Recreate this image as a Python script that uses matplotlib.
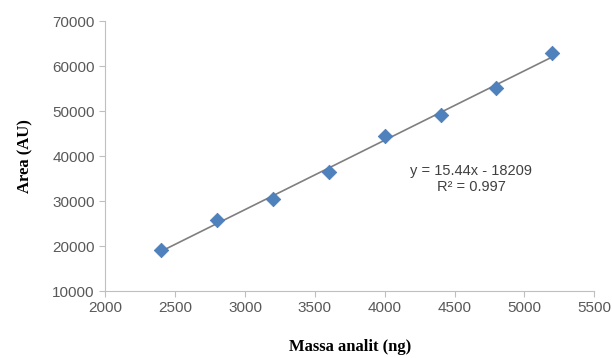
import numpy as np
import matplotlib
matplotlib.use('Agg')
import matplotlib.pyplot as plt

# datos
masa = [2400, 2800, 3200, 3600, 4000, 4400, 4800, 5200]
area = [19100, 25800, 30400, 36400, 44500, 49200, 55200, 62950]
xticks = [2000, 2500, 3000, 3500, 4000, 4500, 5000, 5500]
yticks = [10000, 20000, 30000, 40000, 50000, 60000, 70000]

fig = plt.figure(figsize=(6.12, 3.58), dpi=100)
ax = fig.add_axes([0.172, 0.187, 0.799, 0.754])

# linea de tendencia
m, b = np.polyfit(masa, area, 1)
xs = np.array([masa[0], masa[-1]])
ax.plot(xs, m * xs + b, color='#7f7f7f', lw=1.2, zorder=2)

ax.scatter(masa, area, marker='D', s=55, color='#4f81bd', edgecolors='#4a7ab5',
           linewidths=0.5, zorder=3)

ax.text(4620, 34900, 'y = 15.44x - 18209\nR² = 0.997', ha='center', va='center',
        fontsize=10.5, color='#404040', family='Liberation Sans', linespacing=1.1)

ax.set_xlim(2000, 5500)
ax.set_ylim(10000, 70000)
ax.set_xticks(xticks)
ax.set_yticks(yticks)

for s in ['top', 'right']:
    ax.spines[s].set_visible(False)
for s in ['left', 'bottom']:
    ax.spines[s].set_color('#bfbfbf')
ax.tick_params(colors='#bfbfbf', labelcolor='#595959', labelsize=11, length=4,
               direction='out')
for lbl in ax.get_xticklabels() + ax.get_yticklabels():
    lbl.set_family('Liberation Sans')

ax.set_xlabel('Massa analit (ng)', family='Liberation Serif', fontweight='bold',
              fontsize=12, labelpad=17)
ax.set_ylabel('Area (AU)', family='Liberation Serif', fontweight='bold',
              fontsize=12, labelpad=14)

fig.savefig('out.png', dpi=100)
